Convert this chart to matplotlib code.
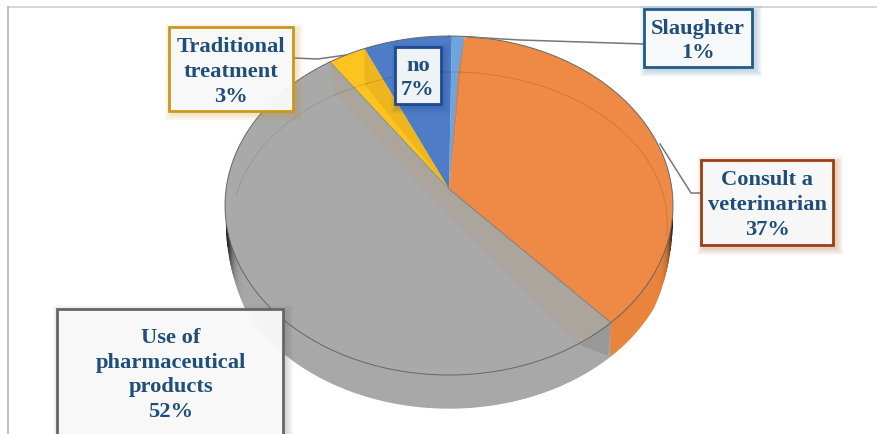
import matplotlib
matplotlib.use("Agg")
import matplotlib.pyplot as plt
import numpy as np
from matplotlib.patches import Rectangle

# slices, clockwise from just past 12 o'clock
labels = ["Slaughter\n1%", "Consult a\nveterinarian\n37%", "Use of\npharmaceutical\nproducts\n52%",
          "Traditional\ntreatment\n3%", "no\n7%"]
values = [1, 37, 52, 3, 7]
top_colors = ["#6ea5dd", "#ee8a45", "#a9a9a9", "#fdc320", "#4f7cc6"]
side_colors = ["#6ea5dd", "#e8843c", "#a8a8a8", "#fdc320", "#4f7cc6"]
edge_colors = ["#1f5c8c", "#9c3f12", "#666666", "#c9981f", "#1f4a8f"]

# label boxes: left, top, right, bottom, then the text centre
boxes = [(644, 10, 752, 68, 698, 41),
         (701, 161, 833, 246, 767, 205),
         (57, 310, 283, 445, 171, 375),
         (169, 28, 293, 112, 231, 72),
         (395, 48, 441, 105, 418, 78)]
leaders = [([644, 520, 468], [45, 41, 38]),
           ([701, 691, 660], [194, 194, 145]),
           ([293, 318, 346], [59, 60, 56])]

# perspective of the pie disc
cx, cy = 449, 190
ax_x, ax_y, persp = 222.9, 167.9, 0.0974
depth = 33
start_deg = 0.8
bevel_x, bevel_y = 460, 228


def project(theta):
    x = np.sin(theta)
    y = np.cos(theta)
    w = 1 + persp * y
    return cx + ax_x * x / w, cy - ax_y * y / w


def inner(theta):
    # bevelled top face sits lower at the back and meets the rim at the front
    x, y = project(theta)
    return 450 + (x - 449) * 0.97, 224.5 + (y - 206.5) * 0.894


def arc(a, b, func=project, n=80):
    return func(np.linspace(a, b, n))


fig = plt.figure(figsize=(8.77, 4.35), dpi=100)
ax = fig.add_axes([0, 0, 1, 1])
ax.set_xlim(0, 877)
ax.set_ylim(435, 0)
ax.axis("off")

# chart frame
ax.plot([8, 877], [8, 8], color="#d4d4d4", lw=1.3)
ax.plot([8, 8], [8, 435], color="#b9b9b9", lw=1.3)

edges = np.radians(np.cumsum([0] + values) * 3.6 + start_deg)
gray_a, gray_b = edges[2], edges[3]

# side wall, tapered and shaded darker towards both silhouette ends
vis_a, vis_b = np.radians(100), np.radians(258)


def wall_depth(t):
    pos = (t - vis_a) / (vis_b - vis_a)
    return depth * min(1, pos / 0.12) ** 0.5 * min(1, (1 - pos) / 0.12) ** 0.5


steps = np.linspace(vis_a, vis_b, 159)
for t0, t1 in zip(steps[:-1], steps[1:]):
    mid = (t0 + t1) / 2
    idx = min(np.searchsorted(edges, mid) - 1, 4)
    base = np.array(matplotlib.colors.to_rgb(side_colors[idx]))
    pos = (mid - vis_a) / (vis_b - vis_a)
    shade = 1 - 0.8 * np.exp(-(min(pos, 1 - pos) / 0.05) ** 2)
    xs, ys = arc(t0, t1, n=2)
    ax.fill([xs[0], xs[1], xs[1], xs[0]], [ys[0], ys[1], ys[1] + wall_depth(t1), ys[0] + wall_depth(t0)],
            color=np.clip(base * shade, 0, 1), lw=0.9, zorder=2)

# top face of each slice
for i, color in enumerate(top_colors):
    xs, ys = arc(edges[i], edges[i + 1])
    ax.fill(np.r_[cx, xs], np.r_[cy, ys], color=color, lw=0, zorder=3)

# bevel strips along the two walls of the gray slice
px, py = project(gray_a)
qx, qy = inner(gray_a + np.radians(9))
ax.fill([cx, px, qx, bevel_x], [cy, py, qy, bevel_y], color="#aba59d", lw=0, zorder=6)
ax.fill([px, px - 3, qx], [py, py + depth, qy], color="#989898", lw=0, zorder=6)
tx, ty = project(gray_b)
ux, uy = inner(gray_b)
ax.fill([cx, tx, ux, bevel_x], [cy, ty, uy, bevel_y], color="#aba59d", lw=0, zorder=6)
ax.plot([cx, px], [cy, py], color="#7f7f7f", lw=0.7, zorder=7)
ax.plot([cx, tx], [cy, ty], color="#8c8c80", lw=0.6, zorder=7)

# faint inner rim on the back of the gray slice
ix, iy = arc(np.radians(275), gray_b, func=inner)
ax.plot(ix, iy, color="#969696", lw=0.6, zorder=6)

# yellow and orange walls
yx, yy = project(edges[4])
ax.fill([yx, yx, cx], [yy, yy + 36, cy], color="#eeb61c", lw=0, zorder=6)
ox, oy = project(edges[1])
ax.fill([ox, ox - 6, cx], [oy, oy + 36, cy], color="#e47a2e", lw=0, zorder=6)

# inner rim over the coloured slices
for i in [0, 1, 3, 4]:
    end_rim = np.radians(100) if i == 1 else edges[i + 1]
    ix, iy = arc(edges[i], end_rim, func=inner)
    ax.plot(ix, iy, color="#000000", alpha=0.13, lw=0.7, zorder=7)

# outer rim
xs, ys = arc(0, 2 * np.pi, n=400)
ax.plot(xs, ys, color="#666666", lw=0.7, zorder=7)

# callout lines
for xs, ys in leaders:
    ax.plot(xs, ys, color="#777777", lw=1.1, zorder=8)

# callout boxes with a soft shadow
for label, edge, (x0, y0, x1, y1, tx, ty) in zip(labels, edge_colors, boxes):
    for grow in range(7, 0, -1):
        ax.add_patch(Rectangle((x0 + 3 - grow, y0 + 3 - grow), x1 - x0 + 2 * grow, y1 - y0 + 2 * grow,
                               facecolor=edge, edgecolor="none", alpha=0.035, zorder=9))
    ax.add_patch(Rectangle((x0, y0), x1 - x0, y1 - y0, facecolor=(0.98, 0.98, 0.985, 0.95),
                           edgecolor=edge, lw=2.0, zorder=10))
    ax.text(tx, ty, label, ha="center", va="center", color="#1f4e79", fontsize=16.2,
            fontweight="bold", family="Liberation Serif", linespacing=1.33, zorder=11)

fig.savefig("out.png", dpi=100)
